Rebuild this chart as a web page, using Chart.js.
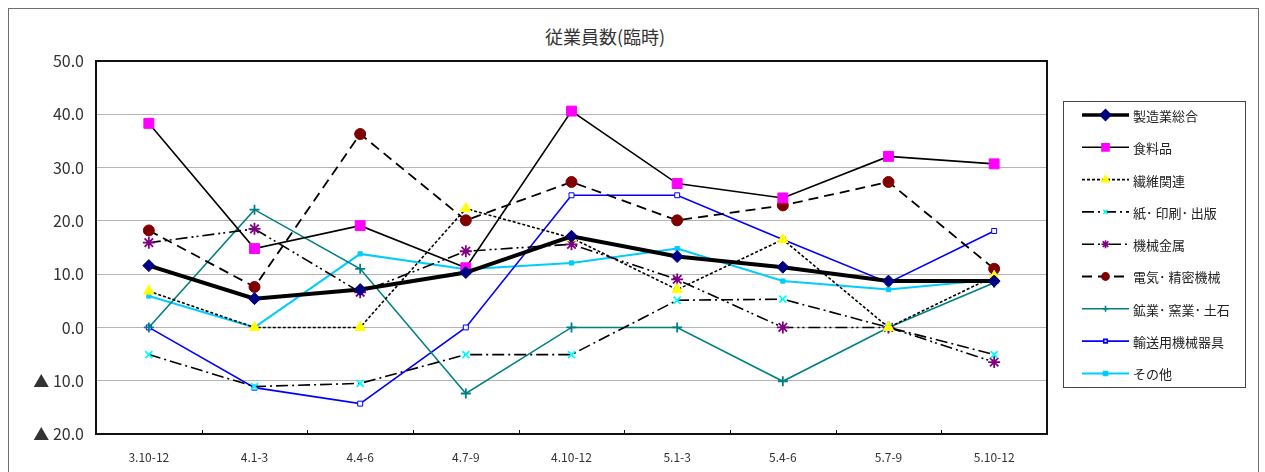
<!DOCTYPE html>
<html lang="ja">
<head>
<meta charset="utf-8">
<title>従業員数(臨時)</title>
<script src="https://cdn.jsdelivr.net/npm/chart.js@4.4.1/dist/chart.umd.min.js"></script>
<style>
  body { margin: 0; background: #fff; }
  #wrap { position: relative; width: 1265px; height: 472px; overflow: hidden; }
  #frame { position: absolute; left: 8px; top: 8px; width: 1249px; height: 480px; border: 1px solid #6e6e6e; border-bottom: none; }
  #titulo { position: absolute; left: 0; top: 23px; width: 1210px; text-align: center; font: 18px "Noto Sans CJK JP"; color: #333; }
  canvas { position: absolute; left: 0; top: 0; }
</style>
</head>
<body>
<div id="wrap">
  <div id="frame"></div>
  <div id="titulo">従業員数(臨時)</div>
  <canvas id="grafico" width="1265" height="472"></canvas>
</div>
<script>
const categorias = ['3.10-12', '4.1-3', '4.4-6', '4.7-9', '4.10-12', '5.1-3', '5.4-6', '5.7-9', '5.10-12'];

const seizogyoSogo = [11.6, 5.4, 7.1, 10.3, 17.1, 13.3, 11.3, 8.7, 8.7];
const shokuryohin  = [38.3, 14.8, 19.1, 11.2, 40.6, 27.0, 24.3, 32.1, 30.7];
const seni         = [6.8, 0, 0, 22.3, 16.8, 7.1, 16.5, 0, 9.6];
const kami         = [-5.1, -11.1, -10.5, -5.1, -5.1, 5.1, 5.3, 0, -5.1];
const kikaiKinzoku = [15.9, 18.5, 6.6, 14.3, 15.6, 9.0, 0, 0, -6.5];
const denki        = [18.2, 7.6, 36.3, 20.1, 27.3, 20.1, 22.9, 27.3, 11.0];
const kogyo        = [0, 22.1, 11.0, -12.4, 0, 0, -10.1, 0, 8.4];
const yuso         = [0, -11.3, -14.3, 0, 24.8, 24.8, 16.5, 8.4, 18.1];
const sonota       = [5.9, 0, 13.8, 10.9, 12.1, 14.8, 8.7, 7.1, 9.0];

const yMin = -20;
const yMax = 50;
const yPasso = 10;

const fonte = '"Noto Sans CJK JP", "Noto Sans", sans-serif';

function rotuloY(v) {
  return v < 0 ? '▲ ' + Math.abs(v).toFixed(1) : v.toFixed(1);
}

function serie(label, data, cor, largura, dash, estilo, raio, fundo, bordaPonto) {
  return {
    label: label,
    data: data,
    borderColor: cor,
    borderWidth: largura,
    borderDash: dash,
    tension: 0,
    fill: false,
    pointStyle: estilo,
    pointRadius: raio,
    pointBackgroundColor: fundo,
    pointBorderColor: bordaPonto,
    pointBorderWidth: (estilo === 'cross' || estilo === 'crossRot' || estilo === 'star') ? 1.8 : 1
  };
}

// moldura do plot + pequenos ticks entre categorias
const moldura = {
  id: 'moldura',
  beforeDatasetsDraw(chart) {
    const { ctx, chartArea: a, scales: { x } } = chart;
    ctx.save();
    ctx.strokeStyle = '#111';
    ctx.lineWidth = 2;
    ctx.strokeRect(a.left, a.top, a.right - a.left, a.bottom - a.top);
    ctx.lineWidth = 1;
    for (let i = 1; i < categorias.length; i++) {
      const px = Math.round((x.getPixelForValue(i - 1) + x.getPixelForValue(i)) / 2) + 0.5;
      ctx.beginPath();
      ctx.moveTo(px, a.bottom);
      ctx.lineTo(px, a.bottom - 4);
      ctx.stroke();
    }
    ctx.restore();
  }
};

// legenda com linha + marcador, dentro de uma caixa
const legendaCaixa = {
  id: 'legendaCaixa',
  afterDraw(chart) {
    const { ctx, chartArea: a } = chart;
    const bx = a.right + 16, by = 101, bw = 182, bh = 286;
    ctx.save();
    ctx.fillStyle = '#fff';
    ctx.fillRect(bx, by, bw, bh);
    ctx.strokeStyle = '#444';
    ctx.lineWidth = 1;
    ctx.strokeRect(bx + 0.5, by + 0.5, bw, bh);
    chart.data.datasets.forEach((ds, i) => {
      const y = by + 14 + i * 32.3;
      const x0 = bx + 19, x1 = bx + 66, xm = (x0 + x1) / 2;
      ctx.strokeStyle = ds.borderColor;
      ctx.lineWidth = Math.min(ds.borderWidth, 3.5);
      ctx.setLineDash(ds.borderDash || []);
      ctx.beginPath();
      ctx.moveTo(x0, y);
      ctx.lineTo(x1, y);
      ctx.stroke();
      ctx.setLineDash([]);
      ctx.fillStyle = ds.pointBackgroundColor;
      ctx.strokeStyle = ds.pointBorderColor;
      Chart.helpers.drawPoint(ctx, {
        pointStyle: ds.pointStyle,
        rotation: 0,
        radius: Math.max(ds.pointRadius - 2, 2.5),
        borderWidth: ds.pointBorderWidth
      }, xm, y);
      ctx.fillStyle = '#222';
      ctx.font = '13px ' + fonte;
      ctx.textBaseline = 'middle';
      ctx.textAlign = 'left';
      ctx.fillText(ds.label, x1 + 4, y + 1);
    });
    ctx.restore();
  }
};

const ctx = document.getElementById('grafico').getContext('2d');
new Chart(ctx, {
  type: 'line',
  data: {
    labels: categorias,
    datasets: [
      serie('製造業総合', seizogyoSogo, '#000000', 4, [], 'rectRot', 6, '#000080', '#000080'),
      serie('食料品', shokuryohin, '#000000', 1.6, [], 'rect', 7, '#ff00ff', '#ff00ff'),
      serie('繊維関連', seni, '#000000', 1.6, [3, 2], 'triangle', 6, '#ffff00', '#ffff00'),
      serie('紙･ 印刷･ 出版', kami, '#000000', 1.6, [12, 4, 2, 4], 'crossRot', 5, '#00ffff', '#00ffff'),
      serie('機械金属', kikaiKinzoku, '#000000', 1.6, [12, 4, 2, 3, 2, 4], 'star', 6, '#800080', '#800080'),
      serie('電気･ 精密機械', denki, '#000000', 1.8, [10, 6], 'circle', 5.5, '#800000', '#800000'),
      serie('鉱業･ 窯業･ 土石', kogyo, '#008080', 1.6, [], 'cross', 5, '#008080', '#008080'),
      serie('輸送用機械器具', yuso, '#0000ff', 1.6, [], 'rect', 3.5, '#ffffff', '#0000ff'),
      serie('その他', sonota, '#00ccff', 2, [], 'rect', 3, '#00ccff', '#00ccff')
    ]
  },
  options: {
    responsive: false,
    animation: false,
    events: [],
    layout: { padding: { left: 0, right: 218, top: 61, bottom: 0 } },
    plugins: {
      legend: { display: false },
      title: { display: false },
      tooltip: { enabled: false }
    },
    scales: {
      y: {
        min: yMin,
        max: yMax,
        afterFit(s) { s.width = 96; },
        ticks: {
          stepSize: yPasso,
          callback: rotuloY,
          color: '#333',
          padding: 12,
          font: { family: fonte, size: 16 }
        },
        grid: { color: '#b4b4b4', lineWidth: 1, drawTicks: false },
        border: { display: false }
      },
      x: {
        offset: true,
        afterFit(s) { s.height = 38; },
        ticks: {
          color: '#333',
          padding: 8,
          maxRotation: 0,
          autoSkip: false,
          font: { family: fonte, size: 12 }
        },
        grid: { display: false },
        border: { display: false }
      }
    }
  },
  plugins: [moldura, legendaCaixa]
});
</script>
</body>
</html>
